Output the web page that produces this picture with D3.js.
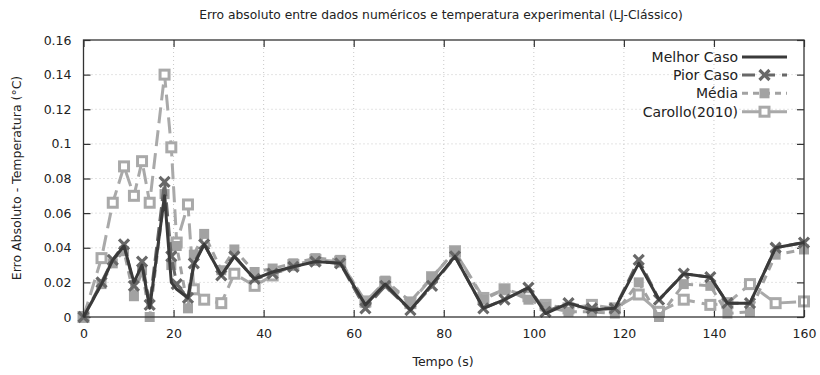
<!DOCTYPE html>
<html><head><meta charset="utf-8">
<script src="https://cdn.jsdelivr.net/npm/d3@7"></script>
<style>body{margin:0;background:#fff}svg{display:block}text{font-family:"DejaVu Sans",sans-serif}</style>
</head><body>
<svg id="c" width="820" height="375"></svg>
<script>
const title = "Erro absoluto entre dados numéricos e temperatura experimental (LJ-Clássico)";
const xLabel = "Tempo (s)";
const yLabel = "Erro Absoluto - Temperatura (°C)";
const xTicks = [0,20,40,60,80,100,120,140,160];
const yTicks = [0,0.02,0.04,0.06,0.08,0.1,0.12,0.14,0.16];
const seriesNames = ["Melhor Caso","Pior Caso","Média","Carollo(2010)"];
const tempo = [0,4,6.5,9,11.2,13,14.7,18,19.5,20.7,23.2,24.5,26.8,30.6,33.5,38,42,46.6,51.5,57,62.6,67,72.6,77.4,82.5,88.8,93.5,98.8,102.6,107.7,112.9,118,123.3,127.8,133.3,139.2,143,148,153.7,160];
const melhor = [0,0.019,0.033,0.041,0.020,0.030,0.005,0.070,0.020,0.016,0.011,0.030,0.042,0.024,0.035,0.022,0.026,0.029,0.032,0.031,0.007,0.019,0.004,0.019,0.035,0.005,0.010,0.017,0.002,0.008,0.004,0.005,0.031,0.010,0.025,0.023,0.008,0.008,0.040,0.043];
const pior = [0,0.020,0.033,0.042,0.018,0.032,0.007,0.078,0.035,0.019,0.011,0.031,0.042,0.024,0.035,0.022,0.025,0.029,0.032,0.031,0.005,0.018,0.004,0.018,0.035,0.005,0.010,0.017,0.003,0.008,0.005,0.005,0.033,0.010,0.025,0.023,0.008,0.008,0.040,0.043];
const media = [0,0.019,0.031,0.038,0.012,0.027,0.000,0.071,0.030,0.041,0.005,0.036,0.048,0.027,0.039,0.026,0.028,0.031,0.034,0.033,0.008,0.021,0.009,0.023,0.038,0.010,0.016,0.010,0.006,0.003,0.003,0.002,0.020,0.000,0.019,0.018,0.002,0.003,0.036,0.039];
const carollo = [0,0.034,0.066,0.087,0.070,0.090,0.066,0.140,0.098,0.043,0.065,0.016,0.010,0.008,0.025,0.018,0.024,0.030,0.033,0.032,0.009,0.020,0.008,0.023,0.038,0.011,0.016,0.012,0.007,0.005,0.007,0.005,0.013,0.003,0.010,0.007,0.008,0.019,0.008,0.009];

const svg = d3.select("#c");
const L=83.5, R=804, T=40, B=317;
const x = d3.scaleLinear().domain([0,160]).range([L,R]);
const y = d3.scaleLinear().domain([0,0.16]).range([B,T]);

const g = svg.append("g");
g.selectAll(".gx").data(xTicks.slice(1,-1)).enter().append("line")
 .attr("x1",d=>x(d)).attr("x2",d=>x(d)).attr("y1",T).attr("y2",B)
 .attr("stroke","#c8c8c8").attr("stroke-dasharray","1,3");
g.selectAll(".gy").data(yTicks.slice(1,-1)).enter().append("line")
 .attr("y1",d=>y(d)).attr("y2",d=>y(d)).attr("x1",L).attr("x2",R)
 .attr("stroke","#c8c8c8").attr("stroke-dasharray","1,3");

const fmtY = d => d===0 ? "0" : d3.format("")(+d.toFixed(2));
const axB = d3.axisBottom(x).tickValues(xTicks).tickSize(-7).tickPadding(12).tickFormat(d3.format("d"));
const axT = d3.axisTop(x).tickValues(xTicks).tickSize(-7).tickFormat("");
const axL = d3.axisLeft(y).tickValues(yTicks).tickSize(-7).tickPadding(12).tickFormat(fmtY);
const axR = d3.axisRight(y).tickValues(yTicks).tickSize(-7).tickFormat("");
function style(sel){sel.select(".domain").remove();sel.selectAll("line").attr("stroke","#333").attr("stroke-width",1.2);sel.selectAll("text").attr("font-size",12.5).attr("fill","#222").attr("font-family","DejaVu Sans, sans-serif");}
svg.append("g").attr("transform",`translate(0,${B})`).call(axB).call(style);
svg.append("g").attr("transform",`translate(0,${T})`).call(axT).call(style);
svg.append("g").attr("transform",`translate(${L},0)`).call(axL).call(style);
svg.append("g").attr("transform",`translate(${R},0)`).call(axR).call(style);

const line = d3.line().x(d=>x(d[0])).y(d=>y(d[1]));
const mk = arr => tempo.map((t,i)=>[t,arr[i]]);

const defs = [
 {name:seriesNames[3], data:carollo, color:"#a9a9a9", dash:"16,7", marker:"hsq", w:3},
 {name:seriesNames[2], data:media, color:"#a2a2a2", dash:"8,6", marker:"fsq", w:3},
 {name:seriesNames[1], data:pior, color:"#686868", dash:"14,6", marker:"x", w:3},
 {name:seriesNames[0], data:melhor, color:"#3a3a3a", dash:null, marker:null, w:3}
];
const plot = svg.append("g");
function drawMarker(gg, type, color, px, py){
  if(type==="hsq"){
    gg.append("rect").attr("x",px-4.5).attr("y",py-4.5).attr("width",9).attr("height",9)
      .attr("fill","#fff").attr("stroke",color).attr("stroke-width",3);
  } else if(type==="fsq"){
    gg.append("rect").attr("x",px-5).attr("y",py-5).attr("width",10).attr("height",10).attr("fill",color);
  } else if(type==="x"){
    gg.append("path").attr("d",`M${px-5},${py-5}L${px+5},${py+5}M${px-5},${py+5}L${px+5},${py-5}`)
      .attr("stroke",color).attr("stroke-width",3.2);
  }
}
defs.forEach(s=>{
  const pts = mk(s.data);
  const p = plot.append("path").datum(pts).attr("d",line).attr("fill","none")
   .attr("stroke",s.color).attr("stroke-width",s.w).attr("stroke-linejoin","round");
  if(s.dash) p.attr("stroke-dasharray",s.dash);
  if(s.marker){ pts.forEach(d=>drawMarker(plot,s.marker,s.color,x(d[0]),y(d[1]))); }
});

svg.append("rect").attr("x",L).attr("y",T).attr("width",R-L).attr("height",B-T)
 .attr("fill","none").attr("stroke","#333").attr("stroke-width",1.3);

const legY = [57,75,93.3,111.7];
const order = [defs[3],defs[2],defs[1],defs[0]];
const leg = svg.append("g");
order.forEach((s,i)=>{
  leg.append("text").attr("x",738).attr("y",legY[i]).attr("dy","0.35em").attr("text-anchor","end")
   .attr("font-size",14).attr("fill","#222").text(s.name);
  const ln = leg.append("line").attr("x1",742).attr("x2",787).attr("y1",legY[i]).attr("y2",legY[i])
   .attr("stroke",s.color).attr("stroke-width",s.w);
  if(s.dash) ln.attr("stroke-dasharray", s.marker==="x" ? "13,7" : (s.marker==="fsq" ? "6,5" : null));
  if(s.marker) drawMarker(leg,s.marker,s.color,764.5,legY[i]);
});

svg.append("text").attr("x",441).attr("y",19).attr("text-anchor","middle").attr("font-size",12.3).attr("fill","#222").text(title);
svg.append("text").attr("x",443).attr("y",366).attr("text-anchor","middle").attr("font-size",12.5).attr("fill","#222").text(xLabel);
svg.append("text").attr("transform","translate(21,178) rotate(-90)").attr("text-anchor","middle").attr("font-size",12.5).attr("fill","#222").text(yLabel);
</script>
</body></html>
